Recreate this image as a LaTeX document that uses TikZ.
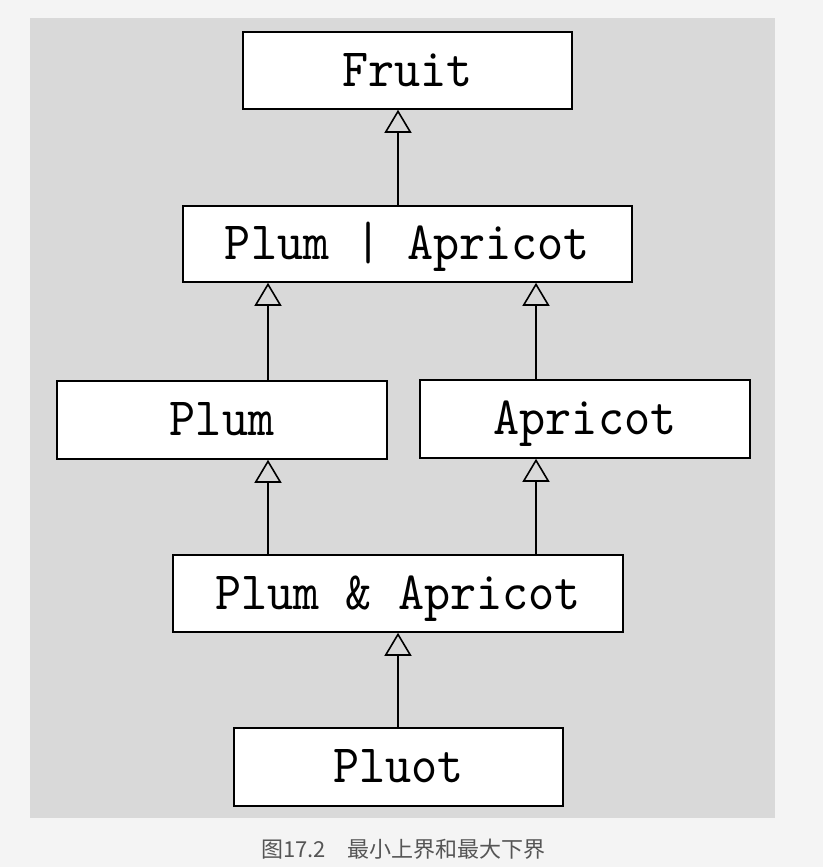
\documentclass[tikz,border=0pt]{standalone}
\usepackage{fontspec}
\newfontfamily\cjk{Noto Sans CJK SC}
\newfontfamily\mono[FakeStretch=0.92]{lmmono10-regular.otf}
\usetikzlibrary{arrows.meta}
\definecolor{pagebg}{HTML}{F4F4F4}
\definecolor{panel}{HTML}{D9D9D9}
\definecolor{captxt}{HTML}{555555}
\begin{document}
\begin{tikzpicture}[x=1pt,y=-1pt,
  box/.style={draw, line width=1.6pt, fill=white, inner sep=0pt,
    font=\mono\fontsize{54}{54}\selectfont, text height=34pt, text depth=3pt},
  gen/.style={line width=1.6pt, -{Triangle[open, width=27pt, length=23pt, line width=1.6pt]}}]
\useasboundingbox (0,0) rectangle (823,867);
\fill[pagebg] (0,0) rectangle (823,867);
\fill[panel] (30,18) rectangle (775,818);
\node[box, minimum width=329pt, minimum height=77pt] (fruit) at (407.5,70.5) {Fruit};
\node[box, minimum width=449pt, minimum height=76pt] (poa) at (407.5,244) {Plum | Apricot};
\node[box, minimum width=330pt, minimum height=78pt] (plum) at (222,420) {Plum};
\node[box, minimum width=330pt, minimum height=78pt] (apricot) at (585,419) {Apricot};
\node[box, minimum width=450pt, minimum height=77pt] (paa) at (398,593.5) {Plum \& Apricot};
\node[box, minimum width=329pt, minimum height=78pt] (pluot) at (398.5,767) {Pluot};
\coordinate (xa) at (268,0);
\coordinate (xb) at (536,0);
\coordinate (xc) at (398,0);
\draw[gen] (poa.north -| xc) -- (fruit.south -| xc);
\draw[gen] (plum.north -| xa) -- (poa.south -| xa);
\draw[gen] (apricot.north -| xb) -- (poa.south -| xb);
\draw[gen] (paa.north -| xa) -- (plum.south -| xa);
\draw[gen] (paa.north -| xb) -- (apricot.south -| xb);
\draw[gen] (pluot.north -| xc) -- (paa.south -| xc);
\node[font=\cjk\fontsize{22}{22}\selectfont, text=captxt, inner sep=0pt] (cap) at (403.5,849) {图17.2　最小上界和最大下界};
\end{tikzpicture}
\end{document}
